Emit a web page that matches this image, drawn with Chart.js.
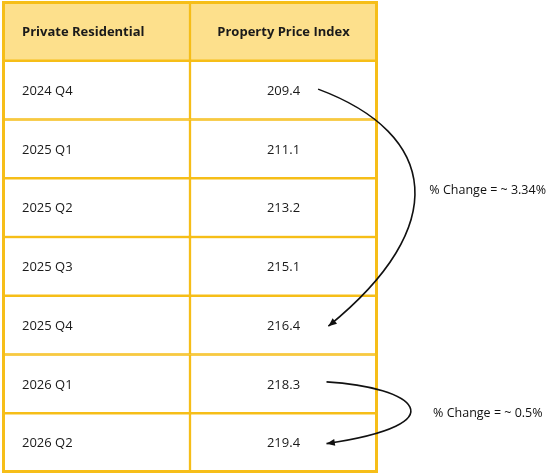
<!DOCTYPE html>
<html><head><meta charset="utf-8">
<script src="https://cdn.jsdelivr.net/npm/chart.js@4"></script>
<style>html,body{margin:0;padding:0;background:#fff}#wrap{width:560px;height:474px}</style>
</head><body><div id="wrap"><canvas id="c"></canvas></div>
<script>
const headers = ['Private Residential', 'Property Price Index'];
const periods = ['2024 Q4', '2025 Q1', '2025 Q2', '2025 Q3', '2025 Q4', '2026 Q1', '2026 Q2'];
const indexValues = [209.4, 211.1, 213.2, 215.1, 216.4, 218.3, 219.4];
const changeNotes = [
  {from: 0, to: 4, text: '% Change = ~ 3.34%'},
  {from: 5, to: 6, text: '% Change = ~ 0.5%'}
];
const rows = ['header', ...periods];
const BORDER = '#F6BE18', HEAD = '#FDE08C';

const tablePlugin = {
  id: 'tableText',
  afterDatasetsDraw(chart) {
    const ctx = chart.ctx, xs = chart.scales.x, ys = chart.scales.y, ca = chart.chartArea;
    ctx.save();
    ctx.strokeStyle = BORDER; ctx.lineWidth = 3;
    ctx.strokeRect(ca.left + 0.5, ca.top + 0.5, ca.right - ca.left - 1, ca.bottom - ca.top - 1);
    ctx.fillStyle = '#1a1a1a';
    ctx.textBaseline = 'middle';
    rows.forEach((r, i) => {
      const y = ys.getPixelForValue(i) + 1;
      if (i === 0) {
        ctx.font = 'bold 13px "Open Sans", sans-serif';
        ctx.textAlign = 'left';
        ctx.fillText(headers[0], xs.getPixelForValue(0) + 19, y);
        ctx.textAlign = 'center';
        ctx.fillText(headers[1], xs.getPixelForValue(1.5), y);
      } else {
        ctx.font = '13px "Open Sans", sans-serif';
        ctx.textAlign = 'left';
        ctx.fillText(periods[i - 1], xs.getPixelForValue(0) + 19, y);
        ctx.textAlign = 'center';
        ctx.fillText(indexValues[i - 1].toFixed(1), xs.getPixelForValue(1.5), y);
      }
    });
    const X = v => xs.getPixelForValue(v);
    ctx.strokeStyle = '#111'; ctx.fillStyle = '#111'; ctx.lineWidth = 1.6;
    const arrow = (sx, sy, c1x, c1y, c2x, c2y, ex, ey) => {
      ctx.beginPath(); ctx.moveTo(sx, sy); ctx.bezierCurveTo(c1x, c1y, c2x, c2y, ex, ey); ctx.stroke();
      const a = Math.atan2(ey - c2y, ex - c2x), L = 9;
      ctx.beginPath(); ctx.moveTo(ex, ey);
      ctx.lineTo(ex - L * Math.cos(a - 0.4), ey - L * Math.sin(a - 0.4));
      ctx.lineTo(ex - L * Math.cos(a + 0.4), ey - L * Math.sin(a + 0.4));
      ctx.closePath(); ctx.fill();
    };
    const n1 = changeNotes[0], n2 = changeNotes[1];
    const y0 = ys.getPixelForValue(n1.from + 1) - 1, y1 = ys.getPixelForValue(n1.to + 1) + 1;
    arrow(X(1.685), y0, X(2.33), y0 + 45, X(2.4), y1 - 100, X(1.74), y1);
    const y2 = ys.getPixelForValue(n2.from + 1) - 2, y3 = ys.getPixelForValue(n2.to + 1) + 1;
    arrow(X(1.73), y2, X(2.2), y2 + 5, X(2.45), y3 - 20, X(1.73), y3);
    ctx.font = '12.5px "Open Sans", sans-serif';
    ctx.textAlign = 'left';
    ctx.fillText(n1.text, X(2.28), (ys.getPixelForValue(2) + ys.getPixelForValue(3)) / 2 + 12);
    ctx.fillText(n2.text, X(2.3), (ys.getPixelForValue(6) + ys.getPixelForValue(7)) / 2);
    ctx.restore();
  }
};

new Chart(document.getElementById('c'), {
  type: 'bar',
  data: {
    labels: rows,
    datasets: [0, 1].map(col => ({
      data: rows.map(() => [col, col + 1]),
      backgroundColor: rows.map((r, i) => i === 0 ? HEAD : '#ffffff'),
      borderColor: BORDER,
      borderWidth: 1.5,
      borderSkipped: false,
      barPercentage: 1,
      categoryPercentage: 1,
      grouped: false
    }))
  },
  options: {
    indexAxis: 'y',
    responsive: true,
    maintainAspectRatio: false,
    animation: false,
    layout: {padding: {left: 3, right: 183, top: 2, bottom: 2}},
    plugins: {legend: {display: false}, tooltip: {enabled: false}},
    scales: {
      x: {display: false, min: 0, max: 2},
      y: {display: false}
    }
  },
  plugins: [tablePlugin]
});
</script></body></html>
